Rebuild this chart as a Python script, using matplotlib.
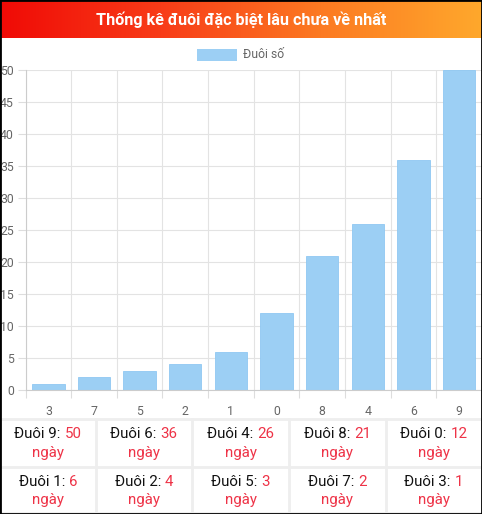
import numpy as np
import matplotlib
matplotlib.use("Agg")
import matplotlib.pyplot as plt
from matplotlib.colors import LinearSegmentedColormap
from matplotlib.lines import Line2D
from matplotlib.patches import Rectangle

plt.rcParams['font.family'] = ['Roboto', 'DejaVu Sans']

# ---- data ----
categories = ["3", "7", "5", "2", "1", "0", "8", "4", "6", "9"]
values = [1, 2, 3, 4, 6, 12, 21, 26, 36, 50]
title = "Thống kê đuôi đặc biệt lâu chưa về nhất"
legend_label = "Đuôi số"
y_ticks = [0, 5, 10, 15, 20, 25, 30, 35, 40, 45, 50]

W, H = 482, 514
fig = plt.figure(figsize=(W / 100, H / 100), dpi=100)
fig.patch.set_facecolor("white")


def fx(x):
    return x / W


def fy(y):
    return 1 - y / H


# ---- header gradient ----
hax = fig.add_axes([0, fy(38), 1, 38 / H])
cmap = LinearSegmentedColormap.from_list("hdr", ["#f00a06", "#f83c18", "#fc7a22", "#ffa82c"])
hax.imshow(np.linspace(0, 1, 256)[None, :], aspect="auto", cmap=cmap, extent=[0, 1, 0, 1])
hax.set_axis_off()
fig.text(0.5, fy(19.5), title, color="white", fontsize=11.6, fontweight="bold",
         ha="center", va="center")

# ---- chart ----
left, right, top, bottom = 25.5, 482, 70, 390
ax = fig.add_axes([fx(left), fy(bottom), fx(right) - fx(left), (bottom - top) / H])
x = np.arange(len(categories))
bar_color = "#9ccff4"
bars = ax.bar(x, values, width=0.71, color=bar_color, edgecolor="#8fc8f2", linewidth=0.6,
              label=legend_label, zorder=2)
ax.set_xlim(-0.5, len(categories) - 0.5)
ax.set_ylim(0, 50)
ax.set_yticks(y_ticks)
ax.set_yticklabels([str(t) for t in y_ticks])
ax.set_xticks(x)
ax.set_xticklabels(categories)
ax.set_xticks(np.arange(len(categories)) - 0.5, minor=True)
ax.tick_params(axis="x", which="major", length=0, pad=11, labelsize=8.8, labelcolor="#666666")
ax.tick_params(axis="x", which="minor", length=5.8, width=0.8, color="#dddddd")
ax.tick_params(axis="y", length=5.8, width=0.8, color="#dddddd", pad=2.5,
               labelsize=8.8, labelcolor="#666666")
ax.grid(True, axis="y", color="#e3e3e3", linewidth=0.8, zorder=0)
ax.grid(True, axis="x", which="minor", color="#e3e3e3", linewidth=0.8, zorder=0)
ax.grid(False, axis="x", which="major")
for s in ["top", "right"]:
    ax.spines[s].set_visible(False)
ax.spines["left"].set_color("#cccccc")
ax.spines["left"].set_linewidth(0.8)
ax.spines["bottom"].set_color("#cccccc")
ax.spines["bottom"].set_linewidth(0.8)
ax.set_axisbelow(True)

# legend (manual, Chart.js style)
fig.patches.append(Rectangle((fx(197), fy(61)), 40 / W, 12 / H, transform=fig.transFigure,
                             facecolor=bar_color, edgecolor="none"))
fig.text(fx(243), fy(55), legend_label, fontsize=8.8, color="#666666", ha="left", va="center")

# ---- table ----
order = sorted(range(len(values)), key=lambda i: -values[i])
ncol = 5
col_edges = [0, 96, 192, 289, 385.5, 482]
row_tops = [419, 466.5]
sep_color = "#eeeeee"
for yy in [419, 466.5, 513]:
    fig.lines.append(Line2D([0, 1], [fy(yy), fy(yy)], transform=fig.transFigure,
                            color=sep_color, linewidth=2))
for xx in col_edges[1:-1]:
    fig.lines.append(Line2D([fx(xx), fx(xx)], [fy(419), fy(513)], transform=fig.transFigure,
                            color=sep_color, linewidth=2))

red = "#ee3347"
fs = 10.8
fig.canvas.draw()
renderer = fig.canvas.get_renderer()
for k, i in enumerate(order):
    r, c = divmod(k, ncol)
    cx = (col_edges[c] + col_edges[c + 1]) / 2
    base1 = row_tops[r] + 19
    base2 = row_tops[r] + 37.5
    prefix = f"Đuôi {categories[i]}:"
    num = str(values[i])
    full = f"{prefix} {num}"
    tmp = fig.text(0, 0, full, fontsize=fs)
    wpx = tmp.get_window_extent(renderer).width
    tmp.remove()
    start = cx - wpx / 2
    fig.text(fx(start), fy(base1), prefix, fontsize=fs, color="#111111", ha="left", va="baseline")
    fig.text(fx(start + wpx), fy(base1), num, fontsize=fs, color=red, ha="right", va="baseline")
    fig.text(fx(cx), fy(base2), "ngày", fontsize=fs, color=red, ha="center", va="baseline")

# outer border
fig.patches.append(Rectangle((0, 0), 1, 1, transform=fig.transFigure, facecolor="none",
                             edgecolor="black", linewidth=2, zorder=10))

fig.savefig("out.png", dpi=100)
